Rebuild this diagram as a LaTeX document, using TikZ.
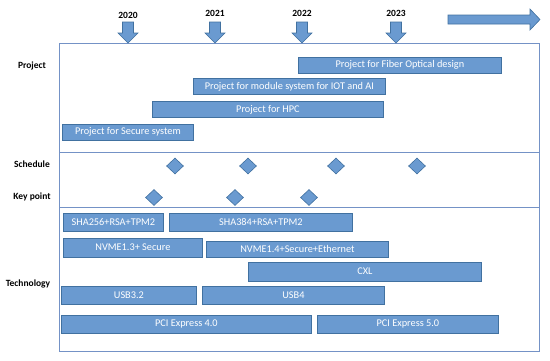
\documentclass[tikz,border=0pt]{standalone}
\usepackage{fontspec}
\setmainfont{Carlito}
\usepackage{tikz}
\usetikzlibrary{shapes.geometric,positioning}
\definecolor{barblue}{RGB}{106,154,208}
\definecolor{bardark}{RGB}{65,113,160}
\definecolor{frameblue}{RGB}{116,146,198}
\tikzset{
	bar/.style={
		draw=bardark, rectangle, fill=barblue,
		line width=0.8pt, inner sep=0pt, text=white,
		anchor=west, minimum height=16pt,
		font=\fontsize{10.3}{12}\selectfont
	},
	milestone/.style={
		draw=bardark, diamond, fill=barblue, line width=0.6pt,
		minimum width=17pt, minimum height=16pt, inner sep=0pt
	},
	rowlabel/.style={font=\fontsize{9.5}{11}\selectfont\bfseries, text=black},
	yearlabel/.style={font=\fontsize{9.5}{11}\selectfont\bfseries, text=black},
	blockarrow/.style={draw=bardark, fill=barblue, line width=0.6pt},
	frameline/.style={draw=frameblue, line width=0.65pt}
}
\begin{document}
\begin{tikzpicture}[x=1pt,y=-1pt]
	\useasboundingbox (0,0) rectangle (550,360);
	% frame and row dividers
	\draw[frameline] (59,43) rectangle (539,351);
	\draw[frameline] (59,152) -- (539,152);
	\draw[frameline] (59,207) -- (539,207);
	% years
	\foreach \yr/\xa/\ya in {2020/128/15,2021/215/13,2022/302/13,2023/396/13}{
		\node[yearlabel] (year\yr) at (\xa,\ya) {\yr};
		\draw[blockarrow] (\xa-5.5,22) -- (\xa+5.5,22) -- (\xa+5.5,33) -- (\xa+10,33)
			-- (\xa,43) -- (\xa-10,33) -- (\xa-5.5,33) -- cycle;
	}
	\draw[blockarrow] (448,15) -- (530,15) -- (530,9) -- (540,19.5) -- (530,30)
		-- (530,24) -- (448,24) -- cycle;
	% row labels
	\node[rowlabel] (project) at (32,66) {Project};
	\node[rowlabel] (schedule) at (32,164) {Schedule};
	\node[rowlabel] (keypoint) at (32,197) {Key point};
	\node[rowlabel] (technology) at (28,284) {Technology};
	% projects
	\node[bar, minimum width=203pt] (fiber)  at (298,65)  {Project for Fiber Optical design};
	\node[bar, minimum width=192pt] (module) at (193,86.5) {Project for module system for IOT and AI};
	\node[bar, minimum width=231pt] (hpc)    at (152,109.5) {Project for HPC};
	\node[bar, minimum width=131pt] (secure) at (62,132)  {Project for Secure system};
	% schedule and key points
	\foreach \xs [count=\i] in {175,248,336,417}
		\node[milestone] (sched\i) at (\xs,166) {};
	\foreach \xk [count=\i] in {154,235,309}
		\node[milestone] (key\i) at (\xk,197.5) {};
	% technology
	\node[bar, minimum width=100pt, minimum height=18pt] (shaA)  at (63,222)  {SHA256+RSA+TPM2};
	\node[bar, minimum width=183pt, minimum height=18pt] (shaB)  at (169,222) {SHA384+RSA+TPM2};
	\node[bar, minimum width=139pt, minimum height=19pt] (nvmeA) at (63,247.5) {NVME1.3+ Secure};
	\node[bar, minimum width=182pt, minimum height=16pt] (nvmeB) at (206,249) {NVME1.4+Secure+Ethernet};
	\node[bar, minimum width=233pt, minimum height=19pt] (cxl)   at (248,271.5) {CXL};
	\node[bar, minimum width=135pt, minimum height=18pt] (usbA)  at (61,295)  {USB3.2};
	\node[bar, minimum width=182pt, minimum height=18pt] (usbB)  at (202,295) {USB4};
	\node[bar, minimum width=250pt, minimum height=18pt] (pciA)  at (61,324)  {PCI Express 4.0};
	\node[bar, minimum width=181pt, minimum height=18pt] (pciB)  at (317,324) {PCI Express 5.0};
\end{tikzpicture}
\end{document}
